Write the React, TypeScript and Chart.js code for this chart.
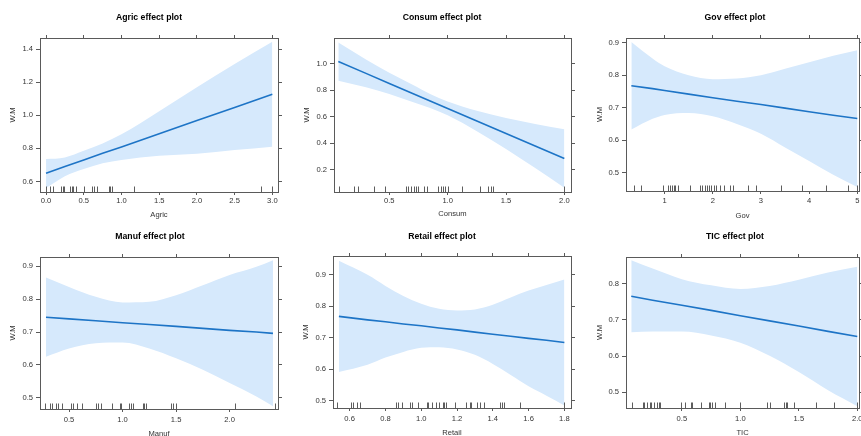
import React, { useEffect, useRef } from "react";
import { Chart, registerables } from "chart.js";

Chart.register(...registerables);

// ---------------- data ----------------
// Agric
const agricX = [0, 0.25, 0.5, 0.75, 1.0, 1.5, 2.0, 2.5, 3.0];
const agricFit = [0.65, 0.69, 0.73, 0.77, 0.809, 0.889, 0.968, 1.048, 1.127];
const agricUpper = [0.735, 0.745, 0.785, 0.83, 0.885, 1.025, 1.17, 1.31, 1.445];
const agricLower = [0.56, 0.632, 0.675, 0.71, 0.73, 0.755, 0.768, 0.79, 0.81];
const agricRug = [0.0, 0.05, 0.09, 0.2, 0.22, 0.24, 0.32, 0.34, 0.36, 0.4, 0.5, 0.61, 0.64, 0.67, 0.83, 0.85, 0.87, 1.17, 2.85, 3.0];
const agricXTicks = [0, 0.5, 1, 1.5, 2, 2.5, 3];
const agricYTicks = [0.6, 0.8, 1.0, 1.2, 1.4];

// Consum
const consumX = [0.063, 0.3, 0.5, 0.7, 0.85, 1.0, 1.25, 1.5, 1.75, 2.0];
const consumFit = [1.015, 0.926, 0.85, 0.775, 0.718, 0.662, 0.567, 0.473, 0.379, 0.285];
const consumUpper = [1.159, 1.031, 0.93, 0.84, 0.77, 0.715, 0.645, 0.59, 0.545, 0.505];
const consumLower = [0.871, 0.821, 0.77, 0.71, 0.665, 0.61, 0.49, 0.356, 0.213, 0.065];
const consumRug = [0.07, 0.2, 0.23, 0.37, 0.46, 0.64, 0.66, 0.69, 0.71, 0.73, 0.75, 0.8, 0.82, 0.92, 0.94, 0.96, 0.98, 1.0, 1.12, 1.28, 1.35, 1.37, 1.39, 2.0];
const consumXTicks = [0.5, 1.0, 1.5, 2.0];
const consumYTicks = [0.2, 0.4, 0.6, 0.8, 1.0];

// Gov
const govX = [0.31, 0.75, 1.0, 1.5, 2.0, 2.5, 3.0, 3.5, 4.0, 4.5, 5.0];
const govFit = [0.768, 0.759, 0.753, 0.742, 0.731, 0.72, 0.71, 0.699, 0.688, 0.677, 0.667];
const govUpper = [0.903, 0.852, 0.828, 0.8, 0.788, 0.79, 0.8, 0.82, 0.84, 0.86, 0.877];
const govLower = [0.633, 0.666, 0.678, 0.684, 0.674, 0.65, 0.62, 0.578, 0.536, 0.494, 0.456];
const govRug = [0.36, 0.5, 0.97, 1.08, 1.12, 1.15, 1.19, 1.22, 1.27, 1.53, 1.73, 1.77, 1.83, 1.88, 1.93, 1.96, 2.02, 2.06, 2.15, 2.24, 2.35, 2.42, 2.74, 2.9, 3.42, 3.85, 4.36, 4.8, 5.0];
const govXTicks = [1, 2, 3, 4, 5];
const govYTicks = [0.5, 0.6, 0.7, 0.8, 0.9];

// Manuf
const manufX = [0.285, 0.5, 0.75, 1.0, 1.25, 1.5, 1.75, 2.0, 2.25, 2.405];
const manufFit = [0.745, 0.74, 0.734, 0.728, 0.723, 0.717, 0.711, 0.705, 0.7, 0.696];
const manufUpper = [0.866, 0.837, 0.807, 0.79, 0.792, 0.812, 0.842, 0.873, 0.898, 0.918];
const manufLower = [0.625, 0.65, 0.666, 0.668, 0.65, 0.62, 0.585, 0.545, 0.504, 0.474];
const manufRug = [0.28, 0.32, 0.34, 0.38, 0.4, 0.43, 0.52, 0.54, 0.57, 0.62, 0.75, 0.77, 0.8, 0.9, 0.98, 0.99, 1.06, 1.08, 1.1, 1.19, 1.2, 1.22, 1.45, 1.47, 1.5, 2.05, 2.42];
const manufXTicks = [0.5, 1.0, 1.5, 2.0];
const manufYTicks = [0.5, 0.6, 0.7, 0.8, 0.9];

// Retail
const retailX = [0.54, 0.7, 0.8, 0.9, 1.0, 1.1, 1.2, 1.3, 1.4, 1.5, 1.6, 1.7, 1.8];
const retailFit = [0.768, 0.757, 0.751, 0.744, 0.738, 0.731, 0.725, 0.718, 0.711, 0.705, 0.698, 0.692, 0.685];
const retailUpper = [0.945, 0.9, 0.865, 0.833, 0.808, 0.792, 0.787, 0.79, 0.805, 0.828, 0.85, 0.868, 0.885];
const retailLower = [0.591, 0.614, 0.637, 0.655, 0.668, 0.67, 0.663, 0.646, 0.617, 0.582, 0.546, 0.516, 0.485];
const retailRug = [0.53, 0.61, 0.62, 0.64, 0.66, 0.86, 0.87, 0.89, 0.94, 0.95, 0.98, 1.03, 1.04, 1.06, 1.08, 1.1, 1.12, 1.13, 1.14, 1.19, 1.25, 1.27, 1.28, 1.31, 1.33, 1.35, 1.44, 1.45, 1.46, 1.55, 1.8];
const retailXTicks = [0.6, 0.8, 1.0, 1.2, 1.4, 1.6, 1.8];
const retailYTicks = [0.5, 0.6, 0.7, 0.8, 0.9];

// TIC
const ticX = [0.067, 0.25, 0.5, 0.75, 1.0, 1.25, 1.5, 1.75, 2.0];
const ticFit = [0.765, 0.754, 0.74, 0.726, 0.711, 0.697, 0.683, 0.668, 0.654];
const ticUpper = [0.864, 0.841, 0.812, 0.795, 0.785, 0.793, 0.81, 0.83, 0.846];
const ticLower = [0.666, 0.668, 0.668, 0.657, 0.637, 0.601, 0.556, 0.506, 0.462];
const ticRug = [0.07, 0.17, 0.18, 0.2, 0.23, 0.24, 0.26, 0.29, 0.3, 0.31, 0.49, 0.53, 0.58, 0.59, 0.66, 0.73, 0.74, 0.76, 0.78, 0.87, 1.0, 1.23, 1.25, 1.37, 1.39, 1.4, 1.46, 1.65, 1.8, 2.0];
const ticXTicks = [0.5, 1.0, 1.5, 2.0];
const ticYTicks = [0.5, 0.6, 0.7, 0.8];

const yTitle = "W.M";

// ---------------- styling ----------------
const FONT = '"Liberation Sans", Arial, Helvetica, sans-serif';
const BAND = "#d6e9fc";
const LINE = "#1d74c6";
const FRAME = "#5a5a5a";
const TEXT = "#333333";
const TITLE_SIZE = 8.7;
const TICK_SIZE = 7.6;

type Spec = {
  title: string;
  xTitle: string;
  x: number[];
  fit: number[];
  upper: number[];
  lower: number[];
  rug: number[];
  xTicks: number[];
  yTicks: number[];
  xDec: number;
  xMin: number;
  xMax: number;
  yMin: number;
  yMax: number;
  box: { left: number; top: number; width: number; height: number };
  plot: { l: number; t: number; r: number; b: number };
  titleCenterY: number;
  xLabelGap: number;
  xTitleY: number;
  yTitleX: number;
};

const specs: Spec[] = [
  {
    title: "Agric effect plot", xTitle: "Agric", x: agricX, fit: agricFit, upper: agricUpper, lower: agricLower, rug: agricRug,
    xTicks: agricXTicks, yTicks: agricYTicks, xDec: 1, xMin: -0.08, xMax: 3.075, yMin: 0.536, yMax: 1.468,
    box: { left: 0, top: 0, width: 298, height: 224 }, plot: { l: 40, t: 38, r: 278, b: 192 },
    titleCenterY: 17.3, xLabelGap: 9, xTitleY: 215, yTitleX: 12.7,
  },
  {
    title: "Consum effect plot", xTitle: "Consum", x: consumX, fit: consumFit, upper: consumUpper, lower: consumLower, rug: consumRug,
    xTicks: consumXTicks, yTicks: consumYTicks, xDec: 1, xMin: 0.026, xMax: 2.057, yMin: 0.0325, yMax: 1.1925,
    box: { left: 300, top: 0, width: 284, height: 224 }, plot: { l: 334, t: 38, r: 571, b: 192 },
    titleCenterY: 17.3, xLabelGap: 9, xTitleY: 214, yTitleX: 306.7,
  },
  {
    title: "Gov effect plot", xTitle: "Gov", x: govX, fit: govFit, upper: govUpper, lower: govLower, rug: govRug,
    xTicks: govXTicks, yTicks: govYTicks, xDec: 0, xMin: 0.199, xMax: 5.035, yMin: 0.4436, yMax: 0.915,
    box: { left: 590, top: 0, width: 290, height: 224 }, plot: { l: 626, t: 38, r: 859, b: 191 },
    titleCenterY: 17.3, xLabelGap: 10, xTitleY: 215.5, yTitleX: 600,
  },
  {
    title: "Manuf effect plot", xTitle: "Manuf", x: manufX, fit: manufFit, upper: manufUpper, lower: manufLower, rug: manufRug,
    xTicks: manufXTicks, yTicks: manufYTicks, xDec: 1, xMin: 0.229, xMax: 2.452, yMin: 0.466, yMax: 0.928,
    box: { left: 0, top: 218, width: 300, height: 222 }, plot: { l: 40, t: 257, r: 278, b: 409 },
    titleCenterY: 236.7, xLabelGap: 11, xTitleY: 433.8, yTitleX: 12.7,
  },
  {
    title: "Retail effect plot", xTitle: "Retail", x: retailX, fit: retailFit, upper: retailUpper, lower: retailLower, rug: retailRug,
    xTicks: retailXTicks, yTicks: retailYTicks, xDec: 1, xMin: 0.507, xMax: 1.837, yMin: 0.4767, yMax: 0.96,
    box: { left: 300, top: 218, width: 284, height: 222 }, plot: { l: 333, t: 256, r: 571, b: 408 },
    titleCenterY: 236.7, xLabelGap: 11, xTitleY: 433.3, yTitleX: 306,
  },
  {
    title: "TIC effect plot", xTitle: "TIC", x: ticX, fit: ticFit, upper: ticUpper, lower: ticLower, rug: ticRug,
    xTicks: ticXTicks, yTicks: ticYTicks, xDec: 1, xMin: 0.022, xMax: 2.0145, yMin: 0.457, yMax: 0.873,
    box: { left: 590, top: 218, width: 290, height: 222 }, plot: { l: 626, t: 257, r: 859, b: 408 },
    titleCenterY: 236.7, xLabelGap: 11, xTitleY: 433.3, yTitleX: 600,
  },
];

function rugPlugin(vals: number[]) {
  return {
    id: "rug",
    afterDatasetsDraw(chart: any) {
      const { ctx, chartArea, scales } = chart;
      ctx.save();
      ctx.strokeStyle = "#333333";
      ctx.lineWidth = 0.8;
      ctx.beginPath();
      for (const v of vals) {
        const px = Math.round(scales.x.getPixelForValue(v)) + 0.5;
        ctx.moveTo(px, chartArea.bottom);
        ctx.lineTo(px, chartArea.bottom - 5.5);
      }
      ctx.stroke();
      ctx.restore();
    },
  };
}

function makeConfig(s: Spec): any {
  const pts = (ys: number[]) => s.x.map((x, i) => ({ x, y: ys[i] }));
  const tickLine = 1.2 * TICK_SIZE;
  const titleLine = 1.2 * TITLE_SIZE;
  const titlePadTop = s.titleCenterY - s.box.top - titleLine / 2;
  const titleH = titlePadTop + titleLine;
  const yW = s.plot.l - s.box.left;
  const y2W = s.box.left + s.box.width - s.plot.r;
  const x2H = s.plot.t - s.box.top - titleH;
  const xH = s.box.top + s.box.height - s.plot.b;
  const xTickLen = 3;
  const yTickLen = 4;
  const xLabelPad = s.xLabelGap - xTickLen - tickLine / 2;
  const xTitlePadBottom = s.box.top + s.box.height - s.xTitleY - tickLine / 2;
  const yTitlePadTop = s.yTitleX - s.box.left - tickLine / 2;
  const setTicks = (vals: number[]) => (sc: any) => {
    sc.ticks = vals.map((v) => ({ value: v }));
  };
  const font = { family: FONT, size: TICK_SIZE };
  const grid = (len: number) => ({ drawOnChartArea: false, drawTicks: true, tickLength: len, color: FRAME, lineWidth: 1 });
  const border = { display: true, color: FRAME, width: 1 };

  return {
    type: "line",
    data: {
      datasets: [
        { data: pts(s.upper), order: 2, fill: "+1", backgroundColor: BAND, borderColor: "transparent", borderWidth: 0, pointRadius: 0, cubicInterpolationMode: "monotone" },
        { data: pts(s.lower), order: 3, fill: false, backgroundColor: BAND, borderColor: "transparent", borderWidth: 0, pointRadius: 0, cubicInterpolationMode: "monotone" },
        { data: pts(s.fit), order: 0, fill: false, borderColor: LINE, borderWidth: 1.6, pointRadius: 0, tension: 0 },
      ],
    },
    options: {
      responsive: false,
      animation: false,
      devicePixelRatio: 1,
      events: [],
      layout: { padding: 0, autoPadding: false },
      plugins: {
        legend: { display: false },
        tooltip: { enabled: false },
        filler: { drawTime: "beforeDatasetsDraw" },
        title: {
          display: true,
          text: s.title,
          color: "#000000",
          font: { family: FONT, size: TITLE_SIZE, weight: "bold" },
          padding: { top: titlePadTop, bottom: 0 },
        },
      },
      scales: {
        x: {
          type: "linear", position: "bottom", min: s.xMin, max: s.xMax, bounds: "data",
          afterBuildTicks: setTicks(s.xTicks),
          afterFit: (sc: any) => { sc.height = xH; },
          grid: grid(xTickLen), border,
          ticks: { font, color: TEXT, padding: xLabelPad, maxRotation: 0, autoSkip: false, callback: (v: any) => Number(v).toFixed(s.xDec) },
          title: { display: true, text: s.xTitle, color: TEXT, font, padding: { top: 0, bottom: xTitlePadBottom } },
        },
        x2: {
          type: "linear", position: "top", min: s.xMin, max: s.xMax, bounds: "data",
          afterBuildTicks: setTicks(s.xTicks),
          afterFit: (sc: any) => { sc.height = x2H; },
          grid: grid(xTickLen), border,
          ticks: { display: false },
        },
        y: {
          type: "linear", position: "left", min: s.yMin, max: s.yMax, bounds: "data",
          afterBuildTicks: setTicks(s.yTicks),
          afterFit: (sc: any) => { sc.width = yW; },
          grid: grid(yTickLen), border,
          ticks: { font, color: TEXT, padding: 3, callback: (v: any) => Number(v).toFixed(1) },
          title: { display: true, text: yTitle, color: TEXT, font, padding: { top: yTitlePadTop, bottom: 0 } },
        },
        y2: {
          type: "linear", position: "right", min: s.yMin, max: s.yMax, bounds: "data",
          afterBuildTicks: setTicks(s.yTicks),
          afterFit: (sc: any) => { sc.width = y2W; },
          grid: grid(yTickLen), border,
          ticks: { display: false },
        },
      },
    },
    plugins: [rugPlugin(s.rug)],
  };
}

function Panel({ spec }: { spec: Spec }) {
  const ref = useRef<HTMLCanvasElement | null>(null);
  useEffect(() => {
    if (!ref.current) return;
    const chart = new Chart(ref.current, makeConfig(spec));
    return () => chart.destroy();
  }, [spec]);
  return (
    <canvas
      ref={ref}
      width={spec.box.width}
      height={spec.box.height}
      style={{
        position: "absolute",
        left: spec.box.left,
        top: spec.box.top,
        width: spec.box.width,
        height: spec.box.height,
      }}
    />
  );
}

export default function App() {
  return (
    <div
      style={{
        position: "absolute",
        left: 0,
        top: 0,
        width: 861,
        height: 436,
        overflow: "hidden",
        background: "#ffffff",
      }}
    >
      {specs.map((s) => (
        <Panel key={s.title} spec={s} />
      ))}
    </div>
  );
}
